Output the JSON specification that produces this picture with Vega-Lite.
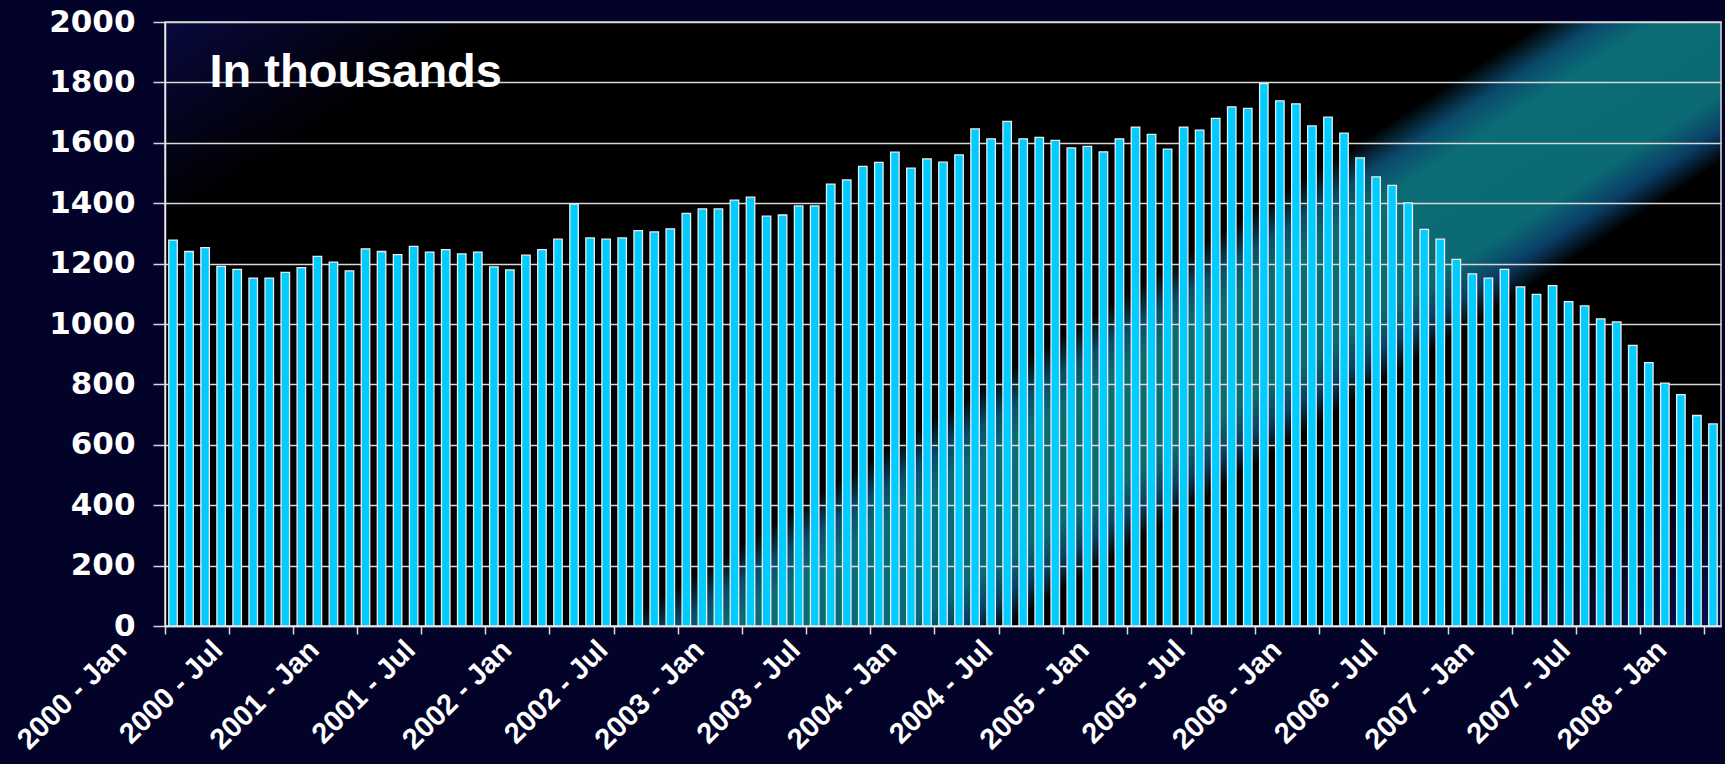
{
  "$schema": "https://vega.github.io/schema/vega-lite/v6.json",
  "autosize": {"type": "none"},
  "width": 1556,
  "height": 604,
  "padding": {"left": 165, "top": 22, "right": 4, "bottom": 138},
  "background": "#03032a",
  "config": {
    "view": {
      "stroke": "#d8d8d8",
      "strokeWidth": 1.5,
      "fill": {
        "gradient": "linear",
        "x1": 0, "y1": 0, "x2": 1.177, "y2": 0.703,
        "stops": [
          {"offset": 0, "color": "#08083e"},
          {"offset": 0.13, "color": "#000000"},
          {"offset": 0.555, "color": "#000000"},
          {"offset": 0.578, "color": "#0a4a6c"},
          {"offset": 0.6, "color": "#0b6c76"},
          {"offset": 0.67, "color": "#0b6a74"},
          {"offset": 0.693, "color": "#0a3e66"},
          {"offset": 0.713, "color": "#000000"},
          {"offset": 0.87, "color": "#000000"},
          {"offset": 1, "color": "#061050"}
        ]
      }
    }
  },
  "data": {
    "values": [
      {"m": "2000 - Jan", "v": 1278}, {"m": "2000 - Feb", "v": 1240}, {"m": "2000 - Mar", "v": 1253}, {"m": "2000 - Apr", "v": 1191},
      {"m": "2000 - May", "v": 1181}, {"m": "2000 - Jun", "v": 1152}, {"m": "2000 - Jul", "v": 1152}, {"m": "2000 - Aug", "v": 1171},
      {"m": "2000 - Sep", "v": 1187}, {"m": "2000 - Oct", "v": 1224}, {"m": "2000 - Nov", "v": 1205}, {"m": "2000 - Dec", "v": 1176},
      {"m": "2001 - Jan", "v": 1249}, {"m": "2001 - Feb", "v": 1240}, {"m": "2001 - Mar", "v": 1230}, {"m": "2001 - Apr", "v": 1257},
      {"m": "2001 - May", "v": 1238}, {"m": "2001 - Jun", "v": 1246}, {"m": "2001 - Jul", "v": 1232}, {"m": "2001 - Aug", "v": 1238},
      {"m": "2001 - Sep", "v": 1189}, {"m": "2001 - Oct", "v": 1179}, {"m": "2001 - Nov", "v": 1228}, {"m": "2001 - Dec", "v": 1246},
      {"m": "2002 - Jan", "v": 1281}, {"m": "2002 - Feb", "v": 1397}, {"m": "2002 - Mar", "v": 1285}, {"m": "2002 - Apr", "v": 1281},
      {"m": "2002 - May", "v": 1285}, {"m": "2002 - Jun", "v": 1309}, {"m": "2002 - Jul", "v": 1305}, {"m": "2002 - Aug", "v": 1315},
      {"m": "2002 - Sep", "v": 1366}, {"m": "2002 - Oct", "v": 1381}, {"m": "2002 - Nov", "v": 1381}, {"m": "2002 - Dec", "v": 1410},
      {"m": "2003 - Jan", "v": 1420}, {"m": "2003 - Feb", "v": 1357}, {"m": "2003 - Mar", "v": 1361}, {"m": "2003 - Apr", "v": 1391},
      {"m": "2003 - May", "v": 1391}, {"m": "2003 - Jun", "v": 1463}, {"m": "2003 - Jul", "v": 1477}, {"m": "2003 - Aug", "v": 1522},
      {"m": "2003 - Sep", "v": 1535}, {"m": "2003 - Oct", "v": 1569}, {"m": "2003 - Nov", "v": 1516}, {"m": "2003 - Dec", "v": 1547},
      {"m": "2004 - Jan", "v": 1536}, {"m": "2004 - Feb", "v": 1560}, {"m": "2004 - Mar", "v": 1646}, {"m": "2004 - Apr", "v": 1613},
      {"m": "2004 - May", "v": 1671}, {"m": "2004 - Jun", "v": 1613}, {"m": "2004 - Jul", "v": 1618}, {"m": "2004 - Aug", "v": 1608},
      {"m": "2004 - Sep", "v": 1583}, {"m": "2004 - Oct", "v": 1588}, {"m": "2004 - Nov", "v": 1570}, {"m": "2004 - Dec", "v": 1613},
      {"m": "2005 - Jan", "v": 1652}, {"m": "2005 - Feb", "v": 1628}, {"m": "2005 - Mar", "v": 1579}, {"m": "2005 - Apr", "v": 1652},
      {"m": "2005 - May", "v": 1642}, {"m": "2005 - Jun", "v": 1681}, {"m": "2005 - Jul", "v": 1719}, {"m": "2005 - Aug", "v": 1714},
      {"m": "2005 - Sep", "v": 1796}, {"m": "2005 - Oct", "v": 1739}, {"m": "2005 - Nov", "v": 1729}, {"m": "2005 - Dec", "v": 1656},
      {"m": "2006 - Jan", "v": 1685}, {"m": "2006 - Feb", "v": 1632}, {"m": "2006 - Mar", "v": 1550}, {"m": "2006 - Apr", "v": 1487},
      {"m": "2006 - May", "v": 1459}, {"m": "2006 - Jun", "v": 1401}, {"m": "2006 - Jul", "v": 1313}, {"m": "2006 - Aug", "v": 1281},
      {"m": "2006 - Sep", "v": 1214}, {"m": "2006 - Oct", "v": 1166}, {"m": "2006 - Nov", "v": 1152}, {"m": "2006 - Dec", "v": 1181},
      {"m": "2007 - Jan", "v": 1123}, {"m": "2007 - Feb", "v": 1098}, {"m": "2007 - Mar", "v": 1127}, {"m": "2007 - Apr", "v": 1074},
      {"m": "2007 - May", "v": 1060}, {"m": "2007 - Jun", "v": 1017}, {"m": "2007 - Jul", "v": 1007}, {"m": "2007 - Aug", "v": 929},
      {"m": "2007 - Sep", "v": 872}, {"m": "2007 - Oct", "v": 804}, {"m": "2007 - Nov", "v": 766}, {"m": "2007 - Dec", "v": 697},
      {"m": "2008 - Jan", "v": 669}
    ]
  },
  "encoding": {
    "y": {
      "field": "v",
      "type": "quantitative",
      "scale": {"domain": [0, 2000], "nice": false},
      "axis": {
        "title": "In thousands",
        "titleAngle": 0,
        "titleX": 44,
        "titleY": 64,
        "titleAlign": "left",
        "titleBaseline": "alphabetic",
        "titleFont": "Liberation Sans",
        "titleFontSize": 47,
        "titleFontWeight": "bold",
        "titleColor": "#ffffff",
        "values": [0, 200, 400, 600, 800, 1000, 1200, 1400, 1600, 1800, 2000],
        "format": "d",
        "labelFont": "DejaVu Sans",
        "labelFontWeight": "bold",
        "labelFontSize": 31,
        "labelColor": "#ffffff",
        "labelPadding": 18,
        "tickSize": 12,
        "tickColor": "#d8d8d8",
        "tickWidth": 1.5,
        "domainColor": "#e8e8e8",
        "domainWidth": 1.5,
        "gridColor": "#d8d8d8",
        "gridWidth": 1.5,
        "grid": true
      }
    }
  },
  "layer": [
    {
      "mark": {"type": "bar", "fill": "#00ccff", "stroke": "#ececec", "strokeWidth": 1.3, "width": {"band": 0.53}},
      "encoding": {
        "x": {
          "field": "m",
          "type": "ordinal",
          "sort": null,
          "scale": {"paddingInner": 0, "paddingOuter": 0},
          "axis": {
            "orient": "bottom",
            "title": null,
            "values": ["2000 - Jan", "2000 - Jul", "2001 - Jan", "2001 - Jul", "2002 - Jan", "2002 - Jul", "2003 - Jan", "2003 - Jul", "2004 - Jan", "2004 - Jul", "2005 - Jan", "2005 - Jul", "2006 - Jan", "2006 - Jul", "2007 - Jan", "2007 - Jul", "2008 - Jan"],
            "ticks": false,
            "domain": false,
            "grid": false,
            "labelAngle": -45,
            "labelAlign": "right",
            "labelBaseline": "top",
            "labelFont": "Liberation Sans",
            "labelFontWeight": "bold",
            "labelFontSize": 29,
            "labelColor": "#ffffff",
            "labelOffset": -61,
            "labelPadding": 9,
            "labelOverlap": false,
            "labelBound": false
          }
        }
      }
    },
    {
      "mark": {"type": "bar", "fillOpacity": 0, "strokeOpacity": 0, "width": {"band": 0.53}},
      "encoding": {
        "x": {
          "field": "m",
          "type": "ordinal",
          "sort": null,
          "axis": {
            "orient": "bottom",
            "title": null,
            "values": ["2000 - Jan", "2000 - May", "2000 - Sep", "2001 - Jan", "2001 - May", "2001 - Sep", "2002 - Jan", "2002 - May", "2002 - Sep", "2003 - Jan", "2003 - May", "2003 - Sep", "2004 - Jan", "2004 - May", "2004 - Sep", "2005 - Jan", "2005 - May", "2005 - Sep", "2006 - Jan", "2006 - May", "2006 - Sep", "2007 - Jan", "2007 - May", "2007 - Sep", "2008 - Jan"],
            "bandPosition": 0,
            "labels": false,
            "grid": false,
            "ticks": true,
            "tickSize": 8,
            "tickColor": "#d8d8d8",
            "tickWidth": 1.5,
            "domain": true,
            "domainColor": "#e8e8e8",
            "domainWidth": 1.5
          }
        }
      }
    }
  ],
  "resolve": {"axis": {"x": "independent"}}
}
